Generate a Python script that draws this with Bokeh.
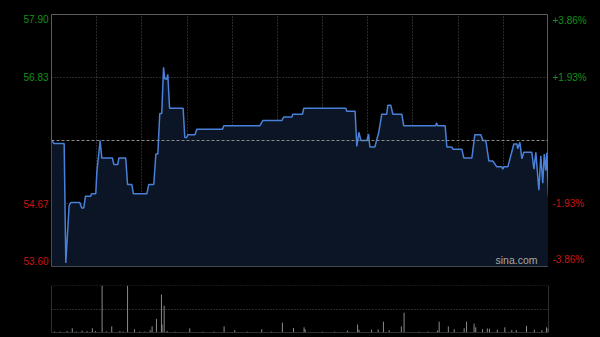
from bokeh.plotting import figure
from bokeh.layouts import column, row
from bokeh.models import Range1d, FixedTicker, Label, Span, ColumnDataSource
from bokeh.core.properties import value
from bokeh.embed import file_html
from bokeh.resources import INLINE

# ---------------- data ----------------
prev_close = 55.75
price_ticks = [57.90, 56.83, 54.67, 53.60]
price_tick_labels = ["57.90", "56.83", "54.67", "53.60"]
pct_tick_labels = ["+3.86%", "+1.93%", "-1.93%", "-3.86%"]
tick_colors = ["#12901a", "#12901a", "#c81414", "#c81414"]
tick_baselines = ["top", "middle", "middle", "bottom"]
tick_offsets = [0, 0, 0, -2]
session_minutes = 330
time_grid = [30, 60, 90, 120, 150, 180, 210, 240, 270, 300]

t_price = [0, 1.5, 8.4, 9.5, 11.7, 12.8, 18.8, 20.1, 21.4, 22.6,
           26.1, 26.5, 29.4, 30.1, 32.3, 33.4, 40.5, 41.4, 44.0, 44.7,
           49.3, 50.5, 53.3, 54.4, 63.3, 64.6, 67.9, 69.3, 70.6, 71.9,
           73.2, 74.4, 75.2, 76.6, 77.2, 78.4, 87.4, 88.5, 89.8, 90.5,
           95.2, 96.5, 113.5, 114.4, 138.3, 140.3, 152.9, 154.2, 159.6, 160.2,
           166.7, 167.5, 195.4, 196.1, 201.6, 202.7, 204.1, 205.4, 209.4, 210.5,
           211.4, 214.7, 217.3, 219.3, 222.6, 223.3, 225.3, 226.6, 232.6, 233.9,
           255.2, 255.6, 256.5, 261.4, 262.5, 265.8, 266.5, 272.5, 273.8, 279.1,
           281.1, 285.1, 286.4, 288.4, 290.4, 293.0, 295.7, 299.0, 299.7, 300.3,
           303.0, 307.0, 309.0, 309.6, 311.0, 312.3, 313.6, 318.9, 320.3, 321.6,
           323.6, 324.9, 326.2, 327.2, 328.2, 328.9, 330]
prices = [55.76, 55.70, 55.70, 53.66, 54.64, 54.69, 54.69, 54.60, 54.60, 54.80,
          54.80, 54.84, 54.84, 55.21, 55.75, 55.45, 55.45, 55.34, 55.34, 55.45,
          55.45, 55.00, 55.00, 54.84, 54.84, 55.00, 55.00, 55.52, 55.52, 56.21,
          56.21, 57.00, 56.80, 56.80, 56.88, 56.30, 56.30, 55.80, 55.80, 55.85,
          55.85, 55.94, 55.94, 56.00, 56.00, 56.09, 56.09, 56.15, 56.15, 56.20,
          56.20, 56.30, 56.30, 56.25, 56.25, 55.65, 55.89, 55.75, 55.75, 55.86,
          55.64, 55.64, 55.89, 56.20, 56.20, 56.35, 56.35, 56.20, 56.20, 56.00,
          56.00, 56.05, 56.00, 56.00, 55.64, 55.64, 55.60, 55.60, 55.45, 55.45,
          55.85, 55.85, 55.75, 55.75, 55.40, 55.40, 55.30, 55.30, 55.26, 55.30,
          55.30, 55.69, 55.69, 55.61, 55.72, 55.44, 55.55, 55.55, 55.26, 55.55,
          54.90, 55.49, 55.02, 55.52, 55.24, 55.54, 54.79]

t_volume = [2.0, 5.5, 10.4, 13.8, 16.5, 20.3, 23.6, 27.1, 29.2, 33.6,
            36.5, 40.0, 45.4, 47.5, 50.5, 55.1, 58.5, 62.0, 65.5, 66.8,
            69.7, 73.0, 73.4, 74.8, 76.8, 82.0, 91.8, 100.5, 108.0, 114.6,
            121.7, 130.0, 139.6, 146.0, 153.3, 160.7, 167.7, 168.4, 180.0, 188.0,
            196.5, 203.2, 204.2, 212.5, 216.9, 220.4, 224.2, 232.3, 234.1, 244.0,
            250.0, 256.3, 257.4, 263.5, 267.4, 274.0, 275.6, 280.6, 281.7, 286.2,
            289.4, 290.8, 296.0, 301.0, 305.6, 308.6, 315.4, 320.6, 325.6, 328.7,
            329.8]
volumes = [2, 2, 3, 9, 2, 4, 3, 9, 3, 100,
           2, 13, 3, 2, 100, 7, 2, 2, 5, 13,
           29, 81, 17, 57, 3, 2, 9, 2, 2, 13,
           5, 2, 7, 2, 21, 9.5, 11, 7, 2, 2,
           4, 17, 6, 6, 6.5, 23, 5, 13, 42, 2,
           2, 4, 23, 13, 7, 9, 23, 19, 11, 7,
           8.6, 8, 6, 11, 5, 5, 14, 6, 5, 11,
           9]
volume_max = 100

# ---------------- styles ----------------
BG = "#000000"
FRAME = "#5c5c5c"
GRID = "#555555"
FONT = "Liberation Sans"
TOP_H, BOT_H = 272, 65


def bare(fig):
    fig.xaxis.visible = False
    fig.yaxis.visible = False
    fig.grid.visible = False
    return fig


# ---------------- price chart ----------------
y_price = Range1d(price_ticks[-1], price_ticks[0])
p = figure(width=497, height=TOP_H, output_backend="svg", toolbar_location=None,
           x_range=Range1d(0, session_minutes), y_range=y_price,
           min_border_left=0, min_border_right=0, min_border_top=14,
           min_border_bottom=6,
           background_fill_color=BG, border_fill_color=BG,
           outline_line_color=FRAME, outline_line_width=1)
p.xaxis.visible = False
p.yaxis.visible = False
p.xgrid.ticker = FixedTicker(ticks=time_grid)
p.ygrid.ticker = FixedTicker(ticks=[price_ticks[1], price_ticks[2]])
p.grid.grid_line_color = GRID
p.grid.grid_line_dash = "1 2"
p.grid.grid_line_width = 1

src = ColumnDataSource(dict(t=t_price, price=prices,
                            base=[price_ticks[-1]] * len(prices)))
p.varea(x="t", y1="base", y2="price", source=src, fill_color="#0b1526", fill_alpha=1.0)
p.add_layout(Span(location=prev_close, dimension="width", line_color="#8a8a8a",
                  line_dash="3 2", line_width=1))
p.line(x="t", y="price", source=src, line_color="#4a80d8", line_width=1.5)

p.add_layout(Label(x=session_minutes, y=price_ticks[-1], text="sina.com",
                   x_offset=-11, y_offset=1, text_align="right",
                   text_baseline="bottom", text_color="#a8a8a8", text_font=FONT,
                   text_font_size="10.5px"))

# ---------------- side label strips (share the price scale) ----------------
lab_src = ColumnDataSource(dict(y=price_ticks, price_lab=price_tick_labels,
                                pct_lab=pct_tick_labels, color=tick_colors,
                                baseline=tick_baselines, yoff=tick_offsets,
                                xl=[1] * len(price_ticks), xr=[0] * len(price_ticks)))

left = bare(figure(width=51, height=TOP_H, output_backend="svg", toolbar_location=None,
                   x_range=Range1d(0, 1), y_range=y_price,
                   min_border_left=0, min_border_right=0, min_border_top=14,
                   min_border_bottom=6, background_fill_color=BG,
                   border_fill_color=BG, outline_line_color=None))
left.text(x="xl", y="y", text="price_lab", source=lab_src, x_offset=-3,
          y_offset="yoff", text_align="right", text_baseline="baseline",
          text_color="color", text_font=value(FONT), text_font_size="10px")

right = bare(figure(width=52, height=TOP_H, output_backend="svg", toolbar_location=None,
                    x_range=Range1d(0, 1), y_range=y_price,
                    min_border_left=0, min_border_right=0, min_border_top=14,
                    min_border_bottom=6, background_fill_color=BG,
                    border_fill_color=BG, outline_line_color=None))
right.text(x="xr", y="y", text="pct_lab", source=lab_src, x_offset=4,
           y_offset="yoff", text_align="left", text_baseline="baseline",
           text_color="color", text_font=value(FONT), text_font_size="10px")

left.renderers[0].glyph.text_baseline = {"field": "baseline"}
right.renderers[0].glyph.text_baseline = {"field": "baseline"}

# ---------------- volume chart ----------------
v = figure(width=600, height=BOT_H, output_backend="svg", toolbar_location=None,
           x_range=p.x_range, y_range=Range1d(0, volume_max),
           min_border_left=51, min_border_right=52, min_border_top=13,
           min_border_bottom=5,
           background_fill_color=BG, border_fill_color=BG,
           outline_line_color=None)
v.xaxis.visible = False
v.yaxis.visible = False
v.xgrid.visible = False
v.ygrid.ticker = FixedTicker(ticks=[volume_max / 2])
v.ygrid.grid_line_color = GRID
v.ygrid.grid_line_dash = "1 2"
v.add_layout(Span(location=volume_max, dimension="width", line_color=GRID,
                  line_dash="1 2", line_width=1))
for loc in (0, session_minutes):
    v.add_layout(Span(location=loc, dimension="height", line_color=FRAME, line_width=1))
v.add_layout(Span(location=0, dimension="width", line_color=FRAME, line_width=1))

vsrc = ColumnDataSource(dict(t=t_volume, vol=volumes, zero=[0] * len(volumes)))
v.segment(x0="t", y0="zero", x1="t", y1="vol", source=vsrc,
          line_color="#8a8a8a", line_width=1)

layout = column(row(left, p, right, spacing=0, background=BG), v,
                spacing=0, background=BG)
open("out.html", "w").write(file_html(layout, INLINE))
